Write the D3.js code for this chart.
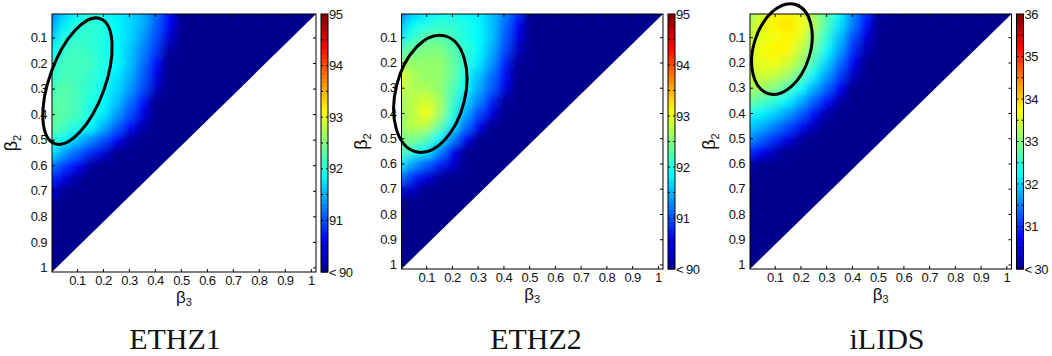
<!DOCTYPE html>
<html>
<head>
<meta charset="utf-8">
<script src="https://cdn.jsdelivr.net/npm/d3@7"></script>
<style>
  body { margin: 0; background: #fff; }
  svg { display: block; }
  text { font-family: "Liberation Sans", Arial, sans-serif; fill: #111; }
</style>
</head>
<body>
<svg id="chart" width="1052" height="356"></svg>
<script>
// sample grid: beta3 along x (columns), beta2 along y (rows)
const beta3Grid = [0, 0.05, 0.1, 0.15, 0.2, 0.25, 0.3, 0.35, 0.4, 0.45, 0.5, 0.55];
const beta2Grid = [0, 0.05, 0.1, 0.15, 0.2, 0.25, 0.3, 0.35, 0.4, 0.45, 0.5, 0.55, 0.6, 0.65, 0.7, 0.75];
const tickValues = [0.1, 0.2, 0.3, 0.4, 0.5, 0.6, 0.7, 0.8, 0.9, 1];
const tickLabels = ["0.1", "0.2", "0.3", "0.4", "0.5", "0.6", "0.7", "0.8", "0.9", "1"];

// cells not listed are below the colour range (< min)
const ethz1Values = [
  [91.2, 91.6, 91.9, 92.0, 91.9, 91.8, 91.7, 91.5, 91.2, 90.7, 89.8],
  [91.4, 91.8, 92.0, 92.1, 92.0, 91.9, 91.7, 91.5, 91.1, 90.6, 89.6],
  [91.6, 92.0, 92.1, 92.1, 92.0, 91.9, 91.7, 91.4, 91.0, 90.4, 89.5],
  [91.9, 92.1, 92.2, 92.1, 92.0, 91.9, 91.6, 91.3, 90.9, 90.1],
  [92.0, 92.2, 92.2, 92.2, 92.0, 91.9, 91.6, 91.2, 90.7, 89.8],
  [92.1, 92.2, 92.2, 92.1, 92.0, 91.8, 91.5, 91.1, 90.5, 89.6],
  [92.2, 92.3, 92.2, 92.1, 91.9, 91.7, 91.4, 91.0, 90.3, 89.5],
  [92.3, 92.3, 92.2, 92.0, 91.9, 91.6, 91.2, 90.7, 89.9],
  [92.35, 92.3, 92.2, 92.0, 91.8, 91.4, 91.0, 90.5, 89.6],
  [92.35, 92.2, 92.0, 91.9, 91.5, 91.1, 90.7, 90.2],
  [92.1, 91.9, 91.6, 91.3, 91.0, 90.6, 90.1, 89.6],
  [91.8, 91.4, 91.1, 90.8, 90.4, 89.8],
  [91.2, 90.9, 90.6, 90.1, 89.6],
  [90.8, 90.5, 90.1, 89.6],
  [90.4, 90.0, 89.5],
  [89.8, 89.5]
];
const ethz2Values = [
  [91.2, 91.6, 91.8, 91.9, 91.9, 91.9, 91.8, 91.6, 91.3, 90.9, 90.0],
  [91.5, 91.9, 92.0, 92.1, 92.1, 92.0, 91.9, 91.6, 91.2, 90.6, 89.7],
  [91.8, 92.1, 92.3, 92.3, 92.2, 92.0, 91.9, 91.6, 91.1, 90.5, 89.6],
  [92.2, 92.4, 92.5, 92.5, 92.3, 92.1, 91.9, 91.5, 91.0, 90.3, 89.5],
  [92.6, 92.6, 92.6, 92.6, 92.4, 92.1, 91.8, 91.4, 90.8, 90.1, 89.5],
  [93.0, 92.7, 92.6, 92.6, 92.4, 92.0, 91.6, 91.2, 90.7, 89.9],
  [92.9, 92.7, 92.7, 92.6, 92.3, 91.9, 91.5, 91.1, 90.5, 89.6],
  [92.7, 92.8, 92.9, 92.7, 92.2, 91.7, 91.3, 90.8, 90.1],
  [92.6, 92.8, 93.1, 92.7, 92.1, 91.5, 91.0, 90.5, 89.7],
  [92.6, 92.8, 92.8, 92.4, 91.8, 91.2, 90.6, 89.8],
  [92.5, 92.5, 92.3, 91.9, 91.3, 90.6, 89.8],
  [92.3, 92.1, 91.8, 91.3, 90.6, 89.7],
  [91.8, 91.4, 91.1, 90.8, 90.4, 89.6],
  [91.2, 90.8, 90.5, 90.1, 89.5],
  [90.6, 90.3, 89.7],
  [90.0, 89.5]
];
const ilidsValues = [
  [33.1, 33.5, 33.7, 33.8, 33.6, 33.2, 32.8, 32.3, 31.6, 31.0, 30.2],
  [33.3, 33.6, 33.8, 33.9, 33.7, 33.3, 32.7, 32.1, 31.5, 30.8, 29.8],
  [33.4, 33.6, 33.7, 33.8, 33.6, 33.1, 32.5, 31.9, 31.2, 30.5, 29.6],
  [33.5, 33.7, 33.8, 33.8, 33.4, 32.9, 32.3, 31.7, 31.0, 30.3, 29.5],
  [33.5, 33.6, 33.7, 33.5, 33.2, 32.6, 32.0, 31.4, 30.7, 29.8],
  [33.4, 33.5, 33.4, 33.2, 32.8, 32.2, 31.7, 31.1, 30.4, 29.5],
  [33.2, 33.2, 33.0, 32.7, 32.3, 31.8, 31.3, 30.7, 30.0],
  [32.9, 32.7, 32.5, 32.2, 31.8, 31.3, 30.8, 30.2, 29.5],
  [32.4, 32.2, 32.0, 31.7, 31.3, 30.8, 30.2, 29.6],
  [32.0, 31.8, 31.5, 31.2, 30.8, 30.3, 29.7],
  [31.6, 31.3, 31.0, 30.6, 30.1, 29.6],
  [31.0, 30.7, 30.3, 29.8],
  [30.3, 29.9],
  [29.6]
];

const ethzRange = [90, 95];
const ethzBarTicks = [91, 92, 93, 94, 95];
const ilidsRange = [30, 36];
const ilidsBarTicks = [31, 32, 33, 34, 35, 36];
const titles = ["ETHZ1", "ETHZ2", "iLIDS"];

// highlighted region: centre (beta3, beta2), semi-axes, tilt in degrees
const ellipses = [
  { cx: 0.102, cy: 0.271, a: 0.256, b: 0.107, angle: 70 },
  { cx: 0.116, cy: 0.324, a: 0.232, b: 0.135, angle: 76 },
  { cx: 0.128, cy: 0.147, a: 0.181, b: 0.110, angle: 73 }
];

// matlab jet
const jetStops = [0, 0.125, 0.375, 0.625, 0.875, 1];
const jetColors = ["#00008f", "#0000ff", "#00ffff", "#ffff00", "#ff0000", "#800000"];

const panels = [
  { title: titles[0], values: ethz1Values, range: ethzRange, barTicks: ethzBarTicks, ellipse: ellipses[0],
    left: 52, right: 316, top: 14, bottom: 272, titleX: 175 },
  { title: titles[1], values: ethz2Values, range: ethzRange, barTicks: ethzBarTicks, ellipse: ellipses[1],
    left: 401.5, right: 663, top: 14, bottom: 269, titleX: 536 },
  { title: titles[2], values: ilidsValues, range: ilidsRange, barTicks: ilidsBarTicks, ellipse: ellipses[2],
    left: 750, right: 1011.5, top: 14, bottom: 269, titleX: 887 }
];

const svg = d3.select("#chart");
const defs = svg.append("defs");

// smooth the coarse grid, then make alpha opaque again so edges keep their colour
const filt = defs.append("filter").attr("id", "smooth")
    .attr("x", "-20%").attr("y", "-20%").attr("width", "140%").attr("height", "140%");
filt.append("feGaussianBlur").attr("stdDeviation", 4).attr("result", "b");
filt.append("feComponentTransfer").attr("in", "b")
  .append("feFuncA").attr("type", "linear").attr("slope", 40).attr("intercept", 0);

const step = beta3Grid[1] - beta3Grid[0];

panels.forEach(function(p, pi) {
  const x = d3.scaleLinear().domain([0.004, 1.02]).range([p.left, p.right]);
  const y = d3.scaleLinear().domain([0.008, 1.018]).range([p.top, p.bottom]);
  const lo = p.range[0], hi = p.range[1];
  const color = d3.scaleLinear()
      .domain(jetStops.map(t => lo + t * (hi - lo)))
      .range(jetColors)
      .clamp(true);

  // triangle beta2 + beta3 <= 1
  defs.append("clipPath").attr("id", "tri" + pi)
    .append("path")
    .attr("d", "M" + p.left + "," + p.bottom + "L" + p.left + "," + p.top + "L" + p.right + "," + p.top + "Z");

  const heat = svg.append("g").attr("clip-path", "url(#tri" + pi + ")")
    .append("g").attr("filter", "url(#smooth)");

  // everything below the range
  heat.append("rect")
      .attr("x", p.left).attr("y", p.top)
      .attr("width", p.right - p.left).attr("height", p.bottom - p.top)
      .attr("fill", color(lo));

  const cells = [];
  p.values.forEach(function(row, i) {
    row.forEach(function(v, j) {
      cells.push({ b2: beta2Grid[i], b3: beta3Grid[j], v: v });
    });
  });

  heat.selectAll("rect.cell")
    .data(cells)
    .enter().append("rect")
      .attr("class", "cell")
      .attr("x", d => x(d.b3 - step / 2))
      .attr("y", d => y(d.b2 - step / 2))
      .attr("width", d => x(d.b3 + step / 2) - x(d.b3 - step / 2) + 0.5)
      .attr("height", d => y(d.b2 + step / 2) - y(d.b2 - step / 2) + 0.5)
      .attr("fill", d => color(d.v));

  // box
  svg.append("rect")
      .attr("x", p.left).attr("y", p.top)
      .attr("width", p.right - p.left).attr("height", p.bottom - p.top)
      .attr("fill", "none").attr("stroke", "#000").attr("stroke-width", 1);

  // axes, ticks pointing inwards like matlab
  const ax = svg.append("g").attr("transform", "translate(0," + p.bottom + ")")
    .call(d3.axisBottom(x).tickValues(tickValues).tickFormat((d, i) => tickLabels[i]).tickSize(-3).tickPadding(4));
  const ay = svg.append("g").attr("transform", "translate(" + p.left + ",0)")
    .call(d3.axisLeft(y).tickValues(tickValues).tickFormat((d, i) => tickLabels[i]).tickSize(-3).tickPadding(5));
  const at = svg.append("g").attr("transform", "translate(0," + p.top + ")")
    .call(d3.axisTop(x).tickValues(tickValues).tickFormat("").tickSize(-3));
  const ar = svg.append("g").attr("transform", "translate(" + p.right + ",0)")
    .call(d3.axisRight(y).tickValues(tickValues).tickFormat("").tickSize(-3));
  [ax, ay, at, ar].forEach(function(a) {
    a.select(".domain").remove();
    a.attr("font-family", null).attr("font-size", null);
    a.selectAll("line").attr("stroke", "#000");
    a.selectAll("text").style("font-size", "13px").style("letter-spacing", "-0.6px").attr("fill", "#111");
  });

  // ellipse marking the best region
  const e = p.ellipse;
  const ecx = x(e.cx), ecy = y(e.cy);
  svg.append("ellipse")
      .attr("cx", ecx).attr("cy", ecy)
      .attr("rx", x(e.cx + e.a) - ecx)
      .attr("ry", x(e.cx + e.b) - ecx)
      .attr("transform", "rotate(" + (-e.angle) + "," + ecx + "," + ecy + ")")
      .attr("fill", "none").attr("stroke", "#000").attr("stroke-width", 3);

  // axis labels
  const yl = svg.append("text")
      .attr("transform", "translate(" + (p.left - 35) + "," + ((p.top + p.bottom) / 2) + ") rotate(-90)")
      .attr("text-anchor", "middle").style("font-size", "18px");
  yl.append("tspan").text("β");
  yl.append("tspan").attr("dy", 4).style("font-size", "11px").text("2");

  const xl = svg.append("text")
      .attr("x", (p.left + p.right) / 2).attr("y", p.bottom + 31)
      .attr("text-anchor", "middle").style("font-size", "17px");
  xl.append("tspan").text("β");
  xl.append("tspan").attr("dy", 3).style("font-size", "11px").text("3");

  // colour bar
  const barX = p.right + 5, barW = 7;
  const cy = d3.scaleLinear().domain(p.range).range([p.bottom, p.top]);
  const levels = d3.range(64).map(k => lo + (k + 0.5) * (hi - lo) / 64);
  svg.append("g").selectAll("rect")
    .data(levels)
    .enter().append("rect")
      .attr("x", barX).attr("width", barW)
      .attr("y", d => cy(d + (hi - lo) / 128))
      .attr("height", (p.bottom - p.top) / 64 + 0.6)
      .attr("fill", d => color(d));
  svg.append("rect")
      .attr("x", barX).attr("y", p.top).attr("width", barW).attr("height", p.bottom - p.top)
      .attr("fill", "none").attr("stroke", "#000").attr("stroke-width", 1);
  const minor = d3.range(lo + 0.5, hi, 0.5);
  const bt = svg.append("g");
  bt.selectAll("line.l").data(minor).enter().append("line")
      .attr("x1", barX).attr("x2", barX + 2).attr("y1", d => cy(d)).attr("y2", d => cy(d))
      .attr("stroke", "#000");
  bt.selectAll("line.r").data(minor).enter().append("line")
      .attr("x1", barX + barW - 2).attr("x2", barX + barW).attr("y1", d => cy(d)).attr("y2", d => cy(d))
      .attr("stroke", "#000");
  bt.selectAll("text").data([lo].concat(p.barTicks)).enter().append("text")
      .attr("x", barX + barW + 1).attr("y", d => cy(d))
      .attr("dy", "0.35em")
      .style("font-size", "13px").style("letter-spacing", "-0.6px")
      .text(d => d === lo ? "< " + lo : d);

  // panel title
  svg.append("text")
      .attr("x", p.titleX).attr("y", 349)
      .attr("text-anchor", "middle")
      .style("font-family", "'Liberation Serif', 'Times New Roman', serif")
      .style("font-size", "30px")
      .text(p.title);
});
</script>
</body>
</html>
